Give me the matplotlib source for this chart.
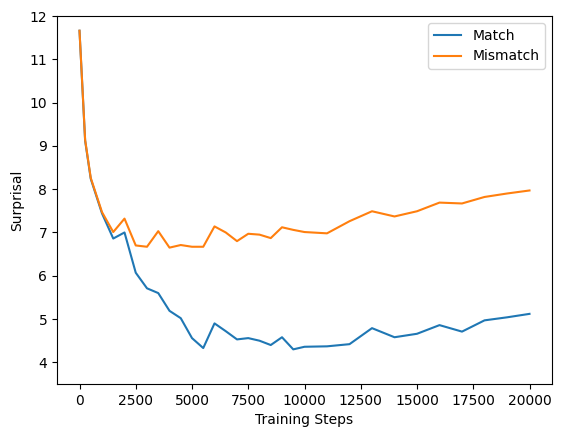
import matplotlib
matplotlib.use("Agg")
import matplotlib.pyplot as plt

steps = [0, 250, 500, 1000, 1500, 2000, 2500, 3000, 3500, 4000, 4500, 5000, 5500,
         6000, 6500, 7000, 7500, 8000, 8500, 9000, 9500, 10000, 11000, 12000,
         13000, 14000, 15000, 16000, 17000, 18000, 19000, 20000]
match = [11.66, 9.12, 8.24, 7.44, 6.86, 7.00, 6.07, 5.71, 5.60, 5.19, 5.02, 4.56, 4.33,
         4.90, 4.72, 4.53, 4.56, 4.50, 4.40, 4.58, 4.30, 4.36, 4.37, 4.42,
         4.79, 4.58, 4.66, 4.86, 4.71, 4.97, 5.04, 5.12]
mismatch = [11.66, 9.14, 8.26, 7.47, 7.01, 7.32, 6.70, 6.67, 7.03, 6.65, 6.71, 6.67, 6.67,
            7.14, 7.00, 6.80, 6.97, 6.95, 6.87, 7.12, 7.06, 7.01, 6.98, 7.26,
            7.49, 7.37, 7.49, 7.69, 7.67, 7.82, 7.90, 7.97]

fig = plt.figure(figsize=(5.63, 4.38), dpi=100)
ax = fig.add_axes([57/563, 1 - 384/438, (552 - 57)/563, (384 - 16)/438])
ax.plot(steps, match, label="Match")
ax.plot(steps, mismatch, label="Mismatch")
ax.set_ylim(3.5, 12)
ax.set_xlabel("Training Steps")
ax.set_ylabel("Surprisal")
ax.legend(loc="upper right")
fig.savefig("out.png", dpi=100)
